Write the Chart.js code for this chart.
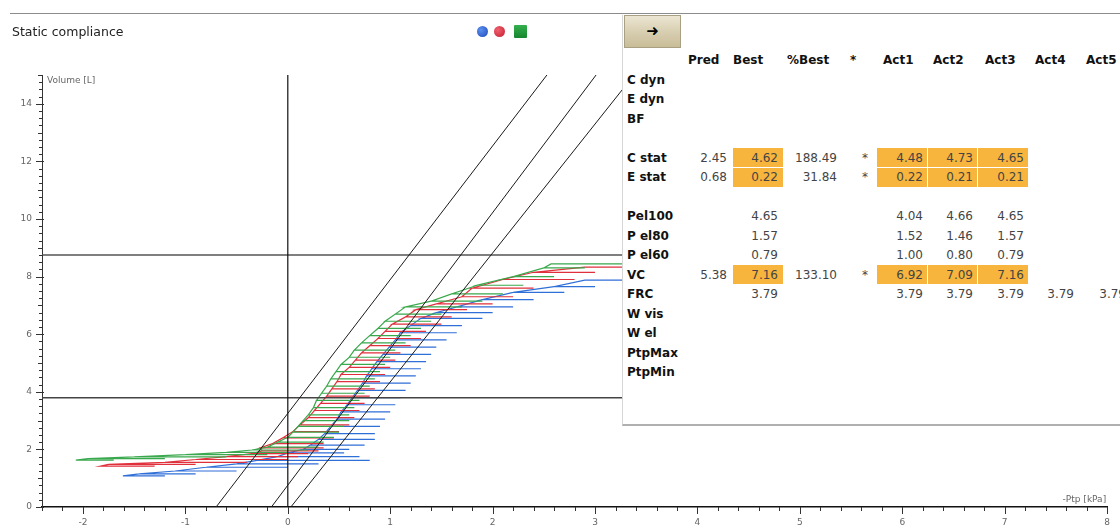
<!DOCTYPE html>
<html>
<head>
<meta charset="utf-8">
<title>Static compliance</title>
<script src="https://cdn.jsdelivr.net/npm/chart.js@4.4.1/dist/chart.umd.min.js"></script>
<style>
  html, body { margin: 0; padding: 0; background: #fff; }
  body { position: relative; width: 1120px; height: 526px; overflow: hidden; font-family: "DejaVu Sans", sans-serif; }
  #pvChart { position: absolute; left: 0; top: 0; }
  .top-rule { position: absolute; left: 10px; right: 0; top: 13px; border-top: 1.5px solid #8c8c8c; }
  .title { position: absolute; left: 12px; top: 24px; font-size: 12.5px; color: #222; }
  .dot { position: absolute; top: 26px; width: 11px; height: 11px; border-radius: 50%; }
  .dot.blue  { left: 477px; background: radial-gradient(circle at 35% 35%, #5b8ff0, #1d49b8); }
  .dot.red   { left: 494px; background: radial-gradient(circle at 35% 35%, #f0606e, #c41d30); }
  .dot.green { left: 514px; top: 25px; width: 13px; height: 13px; border-radius: 1px; background: linear-gradient(#34b04e, #17852e); }
  .panel { position: absolute; left: 622px; top: 15px; width: 498px; height: 409px; background: #fff;
           border-left: 1px solid #d6d6d6; border-bottom: 2px solid #b0b0b0; }
  .btn { position: absolute; left: 624px; top: 15px; width: 57px; height: 33px; box-sizing: border-box;
         border: 1px solid #a99f82; background: linear-gradient(#ece6d2, #d8cfb2 50%, #c9bd98);
         font-size: 15px; line-height: 31px; text-align: center; color: #000; }
  .cell { position: absolute; height: 16px; line-height: 16px; font-size: 12px; white-space: nowrap; }
  .lbl  { font-weight: bold; color: #111; }
  .hdr  { font-weight: bold; color: #111; }
  .val  { color: #444; text-align: right; width: 70px; }
  .hl   { position: absolute; background: #f7b53d; }
</style>
</head>
<body>
<canvas id="pvChart" width="1120" height="526"></canvas>
<div class="top-rule"></div>
<div class="title">Static compliance</div>
<div class="dot blue"></div>
<div class="dot red"></div>
<div class="dot green"></div>
<div class="panel"></div>
<div class="btn">&#10140;</div>
<div id="table"></div>

<script>
// ─── Data ─────────────────────────────────────────────────────────────────────

// Each trace is a list of volume steps: [volume L, left pressure kPa, right pressure kPa]
const blueSteps = [
  [1.08, -1.61, -1.20], [1.15, -1.45, -0.90], [1.25, -1.10, -0.50], [1.38, -0.80, 0.00],
  [1.50, -0.50, 0.30], [1.62, -0.30, 0.80], [1.75, -0.10, 0.70], [1.88, 0.00, 0.55],
  [2.00, 0.15, 0.60], [2.15, 0.22, 0.75], [2.35, 0.30, 0.85], [2.55, 0.36, 0.85],
  [2.80, 0.42, 0.90], [3.05, 0.48, 0.95], [3.30, 0.52, 1.00], [3.55, 0.58, 1.05],
  [3.80, 0.63, 1.10], [4.05, 0.68, 1.15], [4.30, 0.73, 1.20], [4.55, 0.77, 1.25],
  [4.80, 0.82, 1.30], [5.05, 0.87, 1.35], [5.30, 0.93, 1.40], [5.55, 0.99, 1.45],
  [5.80, 1.05, 1.55], [6.05, 1.10, 1.65], [6.30, 1.20, 1.70], [6.55, 1.30, 1.90],
  [6.75, 1.45, 2.00], [6.95, 1.65, 2.20], [7.20, 1.90, 2.40], [7.45, 2.20, 2.70],
  [7.65, 2.60, 3.00], [7.88, 2.90, 3.40]
];
const redSteps = [
  [1.42, -1.83, -1.30], [1.48, -1.75, -0.90], [1.55, -1.20, -0.40], [1.65, -0.90, 0.00],
  [1.75, -0.60, 0.10], [1.85, -0.35, 0.20], [1.95, -0.25, 0.30], [2.05, -0.27, 0.35],
  [2.20, -0.15, 0.35], [2.40, -0.05, 0.45], [2.62, 0.05, 0.50], [2.85, 0.12, 0.60],
  [3.10, 0.20, 0.65], [3.35, 0.26, 0.70], [3.60, 0.32, 0.75], [3.85, 0.38, 0.80],
  [4.10, 0.43, 0.85], [4.35, 0.48, 0.90], [4.60, 0.52, 0.95], [4.85, 0.60, 1.00],
  [5.10, 0.66, 1.05], [5.35, 0.72, 1.10], [5.60, 0.80, 1.20], [5.85, 0.88, 1.30],
  [6.10, 0.95, 1.35], [6.35, 1.02, 1.50], [6.60, 1.15, 1.60], [6.85, 1.25, 1.75],
  [7.05, 1.45, 2.00], [7.30, 1.70, 2.20], [7.60, 1.80, 2.40], [7.90, 2.10, 2.80],
  [8.15, 2.40, 3.00], [8.33, 2.90, 3.40]
];
const greenSteps = [
  [1.63, -2.07, -1.70], [1.68, -1.95, -1.20], [1.74, -1.50, -0.60], [1.82, -1.00, -0.20],
  [1.90, -0.60, 0.00], [1.98, -0.35, 0.20], [2.08, -0.20, 0.30], [2.25, -0.10, 0.35],
  [2.42, 0.00, 0.45], [2.60, 0.05, 0.50], [2.80, 0.10, 0.55], [3.00, 0.15, 0.60],
  [3.20, 0.20, 0.60], [3.45, 0.25, 0.65], [3.70, 0.28, 0.70], [3.95, 0.33, 0.75],
  [4.20, 0.38, 0.80], [4.45, 0.42, 0.85], [4.70, 0.47, 0.90], [4.95, 0.52, 0.95],
  [5.20, 0.60, 1.00], [5.45, 0.65, 1.05], [5.70, 0.72, 1.15], [5.95, 0.80, 1.20],
  [6.20, 0.88, 1.30], [6.45, 0.95, 1.40], [6.70, 1.05, 1.50], [6.95, 1.15, 1.70],
  [7.15, 1.40, 1.90], [7.40, 1.60, 2.10], [7.70, 1.85, 2.30], [8.00, 2.20, 2.60],
  [8.30, 2.50, 2.90], [8.44, 2.57, 3.40]
];

// Compliance lines: start point at V = 0 and end point at V = 15
const complianceLines = [
  [[-0.70, 0], [2.53, 15]],
  [[-0.16, 0], [3.01, 15]],
  [[0.03, 0], [3.38, 15]]
];
const frcVolume = 3.79;
const upperVolume = 8.75;

const xTickLabels = [-2, -1, 0, 1, 2, 3, 4, 5, 6, 7, 8];
const yTickLabels = [0, 2, 4, 6, 8, 10, 12, 14];

// Results table
const tableHeaders = ['Pred', 'Best', '%Best', '*', 'Act1', 'Act2', 'Act3', 'Act4', 'Act5'];
const rowLabels = ['C dyn', 'E dyn', 'BF', '', 'C stat', 'E stat', '', 'Pel100', 'P el80', 'P el60',
                   'VC', 'FRC', 'W vis', 'W el', 'PtpMax', 'PtpMin'];
const rowValues = {
  'C stat': ['2.45', '4.62', '188.49', '*', '4.48', '4.73', '4.65', '', ''],
  'E stat': ['0.68', '0.22', '31.84', '*', '0.22', '0.21', '0.21', '', ''],
  'Pel100': ['', '4.65', '', '', '4.04', '4.66', '4.65', '', ''],
  'P el80': ['', '1.57', '', '', '1.52', '1.46', '1.57', '', ''],
  'P el60': ['', '0.79', '', '', '1.00', '0.80', '0.79', '', ''],
  'VC':     ['5.38', '7.16', '133.10', '*', '6.92', '7.09', '7.16', '', ''],
  'FRC':    ['', '3.79', '', '', '3.79', '3.79', '3.79', '3.79', '3.79']
};
const highlightRows = ['C stat', 'E stat', 'VC'];
const highlightCols = ['Best', 'Act1', 'Act2', 'Act3'];

// ─── Table ────────────────────────────────────────────────────────────────────

const headerLeft = [688, 733, 787, 850, 883, 933, 985, 1035, 1086];
const valueRight = [727, 778, 837, 868, 923, 973, 1024, 1074, 1126];
const cellSpan   = { Best: [733, 783], Act1: [877, 927], Act2: [928, 977], Act3: [978, 1028] };
const rowTop = 60, rowStep = 19.5;

function renderTable() {
  const box = document.getElementById('table');
  let html = '';

  tableHeaders.forEach((h, i) => {
    html += `<div class="cell hdr" style="left:${headerLeft[i]}px;top:${rowTop - 8}px">${h}</div>`;
  });

  rowLabels.forEach((label, r) => {
    if (!label) return;
    const yc = rowTop + rowStep * (r + 1);
    if (highlightRows.includes(label)) {
      highlightCols.forEach(c => {
        const [a, b] = cellSpan[c];
        html += `<div class="hl" style="left:${a}px;top:${yc - 9.5}px;width:${b - a}px;height:19px"></div>`;
      });
    }
    html += `<div class="cell lbl" style="left:627px;top:${yc - 8}px">${label}</div>`;
    (rowValues[label] || []).forEach((v, i) => {
      if (!v) return;
      html += `<div class="cell val" style="left:${valueRight[i] - 70}px;top:${yc - 8}px">${v}</div>`;
    });
  });
  box.innerHTML = html;
}

// ─── Chart ────────────────────────────────────────────────────────────────────

const toXY = pts => pts.map(([x, y]) => ({ x, y }));

// staircase trace: out to the right end of each step and back to its left end
const stepsToPath = steps => steps.flatMap(([v, l, r]) => [{ x: l, y: v }, { x: r, y: v }, { x: l, y: v }]);

const axisDecor = {
  id: 'axisDecor',
  afterDraw(chart) {
    const { ctx, chartArea: a, scales: { x, y } } = chart;
    ctx.save();
    ctx.strokeStyle = '#333';
    ctx.lineWidth = 1;
    ctx.beginPath();
    // y ticks every 0.25 L
    for (let i = 0; i <= 60; i++) {
      const v = i / 4;
      const py = Math.round(y.getPixelForValue(v)) + 0.5;
      const major = v % 2 === 0, unit = v % 1 === 0;
      const l = major ? 6 : unit ? 4 : 3;
      ctx.moveTo(a.left - l, py);
      ctx.lineTo(a.left + (major ? 2 : 1), py);
    }
    // x ticks every 0.2 kPa
    for (let i = -12; i <= 40; i++) {
      const v = i / 5;
      const px = Math.round(x.getPixelForValue(v)) + 0.5;
      const l = i % 5 === 0 ? 7 : 4;
      ctx.moveTo(px, a.bottom);
      ctx.lineTo(px, a.bottom + l);
    }
    ctx.stroke();

    ctx.fillStyle = '#666';
    ctx.font = '9px "DejaVu Sans"';
    ctx.textBaseline = 'top';
    ctx.textAlign = 'left';
    ctx.fillText('Volume [L]', a.left + 5, a.top + 1);
    ctx.textAlign = 'right';
    ctx.textBaseline = 'bottom';
    ctx.fillText('-Ptp [kPa]', a.right - 1, a.bottom - 3);
    ctx.restore();
  }
};

function renderChart() {
  const thin = { showLine: true, pointRadius: 0, tension: 0, fill: false };
  const datasets = [
    ...complianceLines.map(l => ({ ...thin, data: toXY(l), borderColor: '#1a1a1a', borderWidth: 1, order: 0 })),
    { ...thin, data: toXY([[0, 0], [0, 15]]), borderColor: '#111', borderWidth: 1.2, order: 0 },
    { ...thin, data: toXY([[-2.4, frcVolume], [8, frcVolume]]), borderColor: '#444', borderWidth: 1.5, order: 0 },
    { ...thin, data: toXY([[-2.4, upperVolume], [8, upperVolume]]), borderColor: '#555', borderWidth: 1.5, order: 0 },
    { ...thin, data: stepsToPath(greenSteps), borderColor: '#3aa84c', borderWidth: 1.2, order: 1 },
    { ...thin, data: stepsToPath(redSteps), borderColor: '#e0303c', borderWidth: 1.2, order: 2 },
    { ...thin, data: stepsToPath(blueSteps), borderColor: '#2f6fd8', borderWidth: 1.2, order: 3 }
  ];

  new Chart(document.getElementById('pvChart'), {
    type: 'scatter',
    data: { datasets },
    options: {
      responsive: false,
      animation: false,
      devicePixelRatio: 1,
      layout: { padding: { left: 0, right: 5, top: 75, bottom: 0 } },
      plugins: { legend: { display: false }, tooltip: { enabled: false } },
      scales: {
        x: {
          type: 'linear', min: -2.4, max: 8,
          afterBuildTicks: s => { s.ticks = xTickLabels.map(v => ({ value: v })); },
          afterFit: s => { s.height = 19; },
          grid: { display: false, drawTicks: false },
          border: { display: true, color: '#111', width: 1.5 },
          ticks: { color: '#666', font: { family: 'DejaVu Sans', size: 9 }, padding: 10, maxRotation: 0, autoSkip: false }
        },
        y: {
          type: 'linear', min: 0, max: 15,
          afterBuildTicks: s => { s.ticks = yTickLabels.map(v => ({ value: v })); },
          afterFit: s => { s.width = 42; },
          grid: { display: false, drawTicks: false },
          border: { display: true, color: '#333', width: 1 },
          ticks: { color: '#666', font: { family: 'DejaVu Sans', size: 9 }, padding: 10, autoSkip: false }
        }
      }
    },
    plugins: [axisDecor]
  });
}

document.addEventListener('DOMContentLoaded', () => {
  renderChart();
  renderTable();
});
</script>
</body>
</html>
